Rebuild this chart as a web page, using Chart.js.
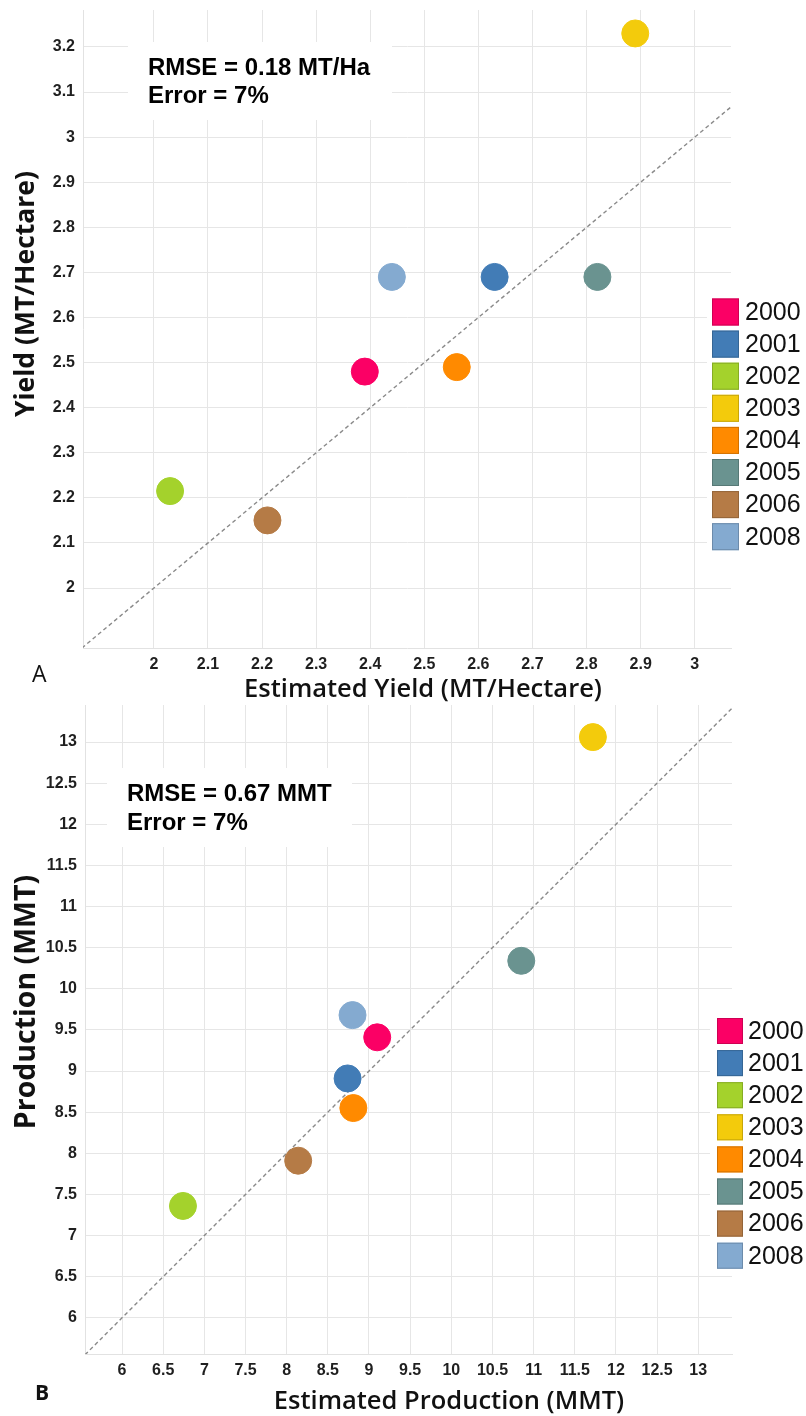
<!DOCTYPE html>
<html>
<head>
<meta charset="utf-8">
<script src="https://cdn.jsdelivr.net/npm/chart.js@4"></script>
<style>
  body { margin: 0; background: #fff; }
  #wrap { position: relative; width: 806px; height: 1416px; }
  .painel { position: absolute; left: 0; width: 806px; }
  #painel-a { top: 0; height: 712px; z-index: 2; }
  #painel-b { top: 700px; height: 716px; z-index: 1; }
</style>
</head>
<body>
<div id="wrap">
  <div class="painel" id="painel-a"><canvas id="grafico-a"></canvas></div>
  <div class="painel" id="painel-b"><canvas id="grafico-b"></canvas></div>
</div>
<script>
// main.js

const anos = ["2000", "2001", "2002", "2003", "2004", "2005", "2006", "2008"];
const cores = ["#fb0065", "#427cb6", "#a4d22c", "#f3cb0c", "#ff8a00", "#6a9390", "#b57b46", "#84aad0"];

// painel A - rendimento (MT/ha)
const rendEstimado = [2.39, 2.63, 2.03, 2.89, 2.56, 2.82, 2.21, 2.44];
const rendObservado = [2.48, 2.69, 2.215, 3.23, 2.49, 2.69, 2.15, 2.69];
const ticksRendX = [2, 2.1, 2.2, 2.3, 2.4, 2.5, 2.6, 2.7, 2.8, 2.9, 3];
const ticksRendY = [2, 2.1, 2.2, 2.3, 2.4, 2.5, 2.6, 2.7, 2.8, 2.9, 3, 3.1, 3.2];

// painel B - producao (MMT)
const prodEstimada = [9.10, 8.74, 6.74, 11.72, 8.81, 10.85, 8.14, 8.80];
const prodObservada = [9.41, 8.91, 7.36, 13.06, 8.55, 10.34, 7.91, 9.68];
const ticksProd = [6, 6.5, 7, 7.5, 8, 8.5, 9, 9.5, 10, 10.5, 11, 11.5, 12, 12.5, 13];

Chart.defaults.font.family = "'Liberation Sans', Arial, sans-serif";

document.addEventListener("DOMContentLoaded", () => {
  criarGrafico("grafico-a", {
    est: rendEstimado, obs: rendObservado,
    x: [1.869, 3.067], y: [1.867, 3.282],
    ticksX: ticksRendX, ticksY: ticksRendY,
    padding: { top: 10, right: 75, left: 0, bottom: 0 },
    larguraY: 83, alturaX: 64,
    caixa: { x: 128, y: 42, w: 264, h: 78, tx: 148, base: [75, 103], linhas: ["RMSE = 0.18 MT/Ha", "Error = 7%"] },
    legenda: { fundo: [707, 296, 99, 258], qx: 712, tx: 745, y0: 312, passo: 32.1, lado: 27 },
    tituloX: { texto: "Estimated Yield (MT/Hectare)", x: 423, y: 697, fonte: "600 25.5px 'Open Sans'" },
    tituloY: { texto: "Yield (MT/Hectare)", x: 26, y: 294, fonte: "bold 26.5px 'Open Sans'" },
    letra: { texto: "A", x: 32, y: 682, fonte: "400 23px 'Open Sans'" }
  });

  criarGrafico("grafico-b", {
    est: prodEstimada, obs: prodObservada,
    x: [5.55, 13.41], y: [5.56, 13.45],
    ticksX: ticksProd, ticksY: ticksProd,
    padding: { top: 5, right: 74, left: 0, bottom: 0 },
    larguraY: 85, alturaX: 62,
    caixa: { x: 107, y: 68, w: 245, h: 79, tx: 127, base: [101, 130], linhas: ["RMSE = 0.67 MMT", "Error = 7%"] },
    legenda: { fundo: [710, 315, 96, 258], qx: 717, tx: 748, y0: 331, passo: 32.1, lado: 26 },
    tituloX: { texto: "Estimated Production (MMT)", x: 449, y: 709, fonte: "600 25.5px 'Open Sans'" },
    tituloY: { texto: "Production (MMT)", x: 27, y: 302, fonte: "bold 28.5px 'Open Sans'" },
    letra: { texto: "B", x: 35, y: 700, fonte: "700 21px 'Open Sans'" }
  });
});

function criarGrafico(id, cfg) {
  const datasets = anos.map((ano, i) => ({
    label: ano,
    data: [{ x: cfg.est[i], y: cfg.obs[i] }],
    backgroundColor: cores[i],
    borderColor: cores[i],
    borderWidth: 1,
    pointRadius: 13.5
  }));

  // linha 1:1 entre os limites dos eixos
  const ini = Math.min(cfg.x[0], cfg.y[0]);
  const fim = Math.max(cfg.x[1], cfg.y[1]);
  datasets.push({
    type: "line",
    label: "1:1",
    data: [{ x: ini, y: ini }, { x: fim, y: fim }],
    borderColor: "#8a8a8a",
    borderWidth: 1.4,
    borderDash: [4, 3],
    pointRadius: 0,
    order: 10
  });

  new Chart(document.getElementById(id), {
    type: "scatter",
    data: { datasets },
    options: {
      responsive: true,
      maintainAspectRatio: false,
      animation: false,
      layout: { padding: cfg.padding, autoPadding: false },
      plugins: { legend: { display: false }, tooltip: { enabled: false } },
      scales: {
        x: eixo(cfg.x, cfg.ticksX, cfg.alturaX, true),
        y: eixo(cfg.y, cfg.ticksY, cfg.larguraY, false)
      }
    },
    plugins: [extras(cfg)]
  });
}

function eixo(faixa, ticks, tamanho, horizontal) {
  return {
    type: "linear",
    min: faixa[0],
    max: faixa[1],
    grid: { color: "#e6e6e6", lineWidth: 1, drawTicks: false },
    border: { color: "#e2e2e2" },
    ticks: {
      padding: horizontal ? 7 : 8,
      color: "#1f1f1f",
      autoSkip: false,
      maxRotation: 0,
      font: { size: 16, weight: "bold" },
      callback: v => String(v)
    },
    afterBuildTicks: s => { s.ticks = ticks.map(v => ({ value: v })); },
    afterFit: s => {
      if (horizontal) s.height = tamanho;
      else s.width = tamanho;
      // area do grafico fica so com o padding do layout
      s.paddingTop = 0;
      s.paddingBottom = 0;
      s.paddingLeft = 0;
      s.paddingRight = 0;
    }
  };
}

function escurecer(hex, f) {
  const n = parseInt(hex.slice(1), 16);
  const r = Math.round(((n >> 16) & 255) * f);
  const g = Math.round(((n >> 8) & 255) * f);
  const b = Math.round((n & 255) * f);
  return `rgb(${r},${g},${b})`;
}

function extras(cfg) {
  return {
    id: "extras",
    beforeDatasetsDraw(chart) {
      const ctx = chart.ctx;
      const c = cfg.caixa;
      ctx.save();
      ctx.fillStyle = "#fff";
      ctx.fillRect(c.x, c.y, c.w, c.h);
      ctx.fillStyle = "#000";
      ctx.font = "bold 24px 'Liberation Sans', Arial";
      ctx.textAlign = "left";
      ctx.textBaseline = "alphabetic";
      c.linhas.forEach((t, i) => ctx.fillText(t, c.tx, c.base[i]));
      ctx.restore();
    },
    afterDraw(chart) {
      const ctx = chart.ctx;
      const lg = cfg.legenda;
      ctx.save();

      // legenda
      ctx.fillStyle = "#fff";
      ctx.fillRect(lg.fundo[0], lg.fundo[1], lg.fundo[2], lg.fundo[3]);
      ctx.font = "25px 'Liberation Sans', Arial";
      ctx.textBaseline = "middle";
      ctx.textAlign = "left";
      chart.data.datasets.filter(d => d.type !== "line").forEach((d, i) => {
        const cy = lg.y0 + i * lg.passo;
        ctx.fillStyle = d.backgroundColor;
        ctx.fillRect(lg.qx, cy - lg.lado / 2, lg.lado, lg.lado);
        ctx.strokeStyle = escurecer(d.backgroundColor, 0.82);
        ctx.lineWidth = 1;
        ctx.strokeRect(lg.qx + 0.5, cy - lg.lado / 2 + 0.5, lg.lado - 1, lg.lado - 1);
        ctx.fillStyle = "#111";
        ctx.fillText(d.label, lg.tx, cy + 1);
      });

      // titulos dos eixos
      ctx.fillStyle = "#111";
      ctx.textAlign = "center";
      ctx.textBaseline = "alphabetic";
      ctx.font = cfg.tituloX.fonte;
      ctx.fillText(cfg.tituloX.texto, cfg.tituloX.x, cfg.tituloX.y);

      ctx.save();
      ctx.translate(cfg.tituloY.x, cfg.tituloY.y);
      ctx.rotate(-Math.PI / 2);
      ctx.textBaseline = "middle";
      ctx.font = cfg.tituloY.fonte;
      ctx.fillText(cfg.tituloY.texto, 0, 0);
      ctx.restore();

      // letra do painel
      ctx.textAlign = "left";
      ctx.font = cfg.letra.fonte;
      ctx.fillText(cfg.letra.texto, cfg.letra.x, cfg.letra.y);
      ctx.restore();
    }
  };
}
</script>
</body>
</html>
